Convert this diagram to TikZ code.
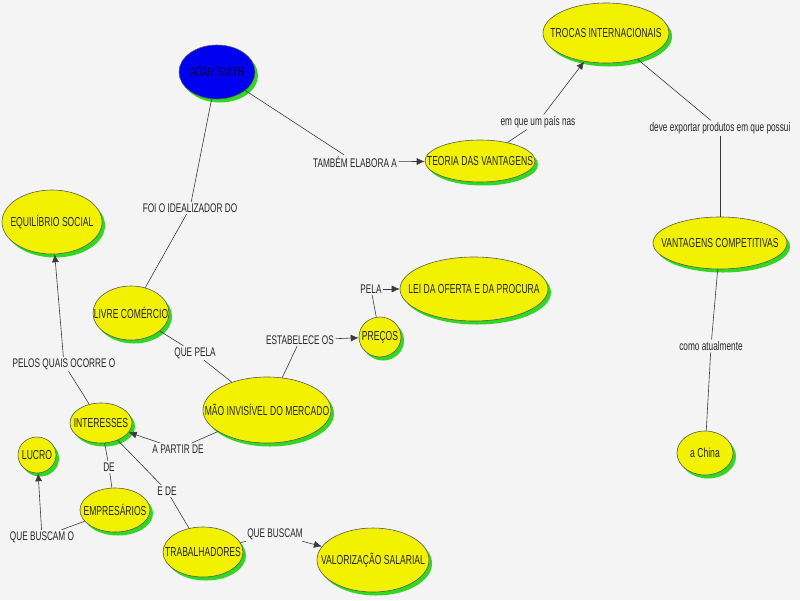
\documentclass[tikz,border=0pt]{standalone}
\usepackage{fontspec}
\setmainfont{Liberation Sans}[FakeStretch=0.66]
\usetikzlibrary{shapes.geometric,shadows,arrows.meta}
\definecolor{bgc}{HTML}{F4F4F4}
\definecolor{cyel}{HTML}{F2F200}
\definecolor{cgreen}{HTML}{30D820}
\definecolor{cblue}{HTML}{0000F0}
\definecolor{lnc}{HTML}{3A3A3A}
\newcommand{\cpt}[1]{\makebox[0pt]{#1}}
\begin{document}
\begin{tikzpicture}[x=1pt,y=-1pt,
  concept/.style={ellipse, draw=black!65, line width=0.6pt, fill=cyel, inner sep=0pt,
    text=black!85, font=\fontsize{13}{15}\selectfont,
    drop shadow={shadow xshift=3pt, shadow yshift=-3.5pt, fill=cgreen, opacity=1}},
  lbl/.style={inner sep=1.5pt, text=black!85, font=\fontsize{12.5}{14}\selectfont},
  ln/.style={draw=lnc, line width=0.6pt},
  arr/.style={ln, -{Latex[length=8pt,width=7pt]}}]
\fill[bgc] (0,0) rectangle (800,600);
\useasboundingbox (0,0) rectangle (800,600);
% concepts
\node[concept,minimum width=76pt,minimum height=54pt,fill=cblue,text=blue!30!black] (adam) at (217,72) {\cpt{ADAM SMITH}};
\node[concept,minimum width=126pt,minimum height=60pt] (trocas) at (606,33) {\cpt{TROCAS INTERNACIONAIS}};
\node[concept,minimum width=110pt,minimum height=42pt] (teoria) at (480,161) {\cpt{TEORIA DAS VANTAGENS}};
\node[concept,minimum width=100pt,minimum height=64pt] (equil) at (52,222) {\cpt{EQUILÍBRIO SOCIAL}};
\node[concept,minimum width=134pt,minimum height=52pt] (vc) at (720,243) {\cpt{VANTAGENS COMPETITIVAS}};
\node[concept,minimum width=76pt,minimum height=54pt] (livre) at (131,313) {\cpt{LIVRE COMÉRCIO}};
\node[concept,minimum width=128pt,minimum height=66pt] (mao) at (267,410) {\cpt{MÃO INVISÍVEL DO MERCADO}};
\node[concept,minimum width=42pt,minimum height=40pt] (precos) at (380,337) {\cpt{PREÇOS}};
\node[concept,minimum width=148pt,minimum height=64pt] (lei) at (474,289) {\cpt{LEI DA OFERTA E DA PROCURA}};
\node[concept,minimum width=62pt,minimum height=40pt] (inter) at (101,423) {\cpt{INTERESSES}};
\node[concept,minimum width=38pt,minimum height=36pt] (lucro) at (37,455) {\cpt{LUCRO}};
\node[concept,minimum width=70pt,minimum height=44pt] (emp) at (115,510) {\cpt{EMPRESÁRIOS}};
\node[concept,minimum width=80pt,minimum height=50pt] (trab) at (203,552) {\cpt{TRABALHADORES}};
\node[concept,minimum width=112pt,minimum height=64pt] (val) at (373,560) {\cpt{VALORIZAÇÃO SALARIAL}};
\node[concept,minimum width=56pt,minimum height=44pt] (china) at (705,453) {\cpt{a China}};
% linking phrases
\node[lbl] (foi) at (190,208) {FOI O IDEALIZADOR DO};
\node[lbl] (tamb) at (355,162) {TAMBÉM ELABORA A};
\node[lbl] (emque) at (538,122) {em que um país nas};
\node[lbl] (deve) at (720,128) {deve exportar produtos em que possui};
\node[lbl] (como) at (711,346) {como atualmente};
\node[lbl] (pela) at (371,289) {PELA};
\node[lbl] (estab) at (300,340) {ESTABELECE OS};
\node[lbl] (quepela) at (195,353) {QUE PELA};
\node[lbl] (pelos) at (64,364) {PELOS QUAIS OCORRE O};
\node[lbl] (apartir) at (178,449) {A PARTIR DE};
\node[lbl] (de) at (109,467) {DE};
\node[lbl] (ede) at (167,491) {E DE};
\node[lbl] (qbo) at (42,537) {QUE BUSCAM O};
\node[lbl] (qb) at (275,534) {QUE BUSCAM};
% connectors
\draw[ln] (adam) -- (foi);
\draw[ln] (foi) -- (livre);
\draw[ln] (adam) -- (tamb);
\draw[arr] (tamb) -- (teoria);
\draw[ln] (teoria) -- (emque);
\draw[arr] (emque) -- (trocas);
\draw[ln] (trocas) -- (deve);
\draw[ln] (deve) -- (vc);
\draw[ln] (vc) -- (como);
\draw[ln] (como) -- (china);
\draw[ln] (livre) -- (quepela);
\draw[ln] (quepela) -- (mao);
\draw[ln] (mao) -- (estab);
\draw[arr] (estab) -- (precos);
\draw[ln] (precos) -- (pela);
\draw[arr] (pela) -- (lei);
\draw[ln] (mao) -- (apartir);
\draw[arr] (apartir) -- (inter);
\draw[ln] (inter) -- (pelos);
\draw[arr] (pelos) -- (equil);
\draw[ln] (inter) -- (de);
\draw[ln] (de) -- (emp);
\draw[ln] (inter) -- (ede);
\draw[ln] (ede) -- (trab);
\draw[ln] (emp) -- (qbo);
\draw[arr] (qbo) -- (lucro);
\draw[ln] (trab) -- (qb);
\draw[arr] (qb) -- (val);
\end{tikzpicture}
\end{document}
